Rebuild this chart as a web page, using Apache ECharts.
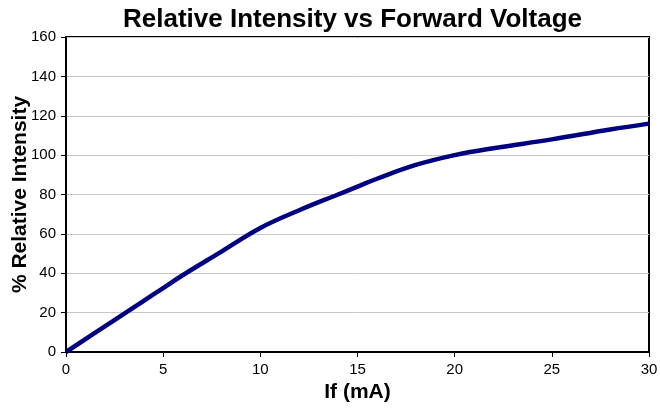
<!DOCTYPE html>
<html>
<head>
<meta charset="utf-8">
<script src="https://cdn.jsdelivr.net/npm/echarts@6/dist/echarts.min.js"></script>
<style>html,body{margin:0;padding:0;background:#fff;}#c{width:660px;height:412px;}</style>
</head>
<body>
<div id="c"></div>
<script>
var currentMA = [0, 2, 4, 5, 6, 8, 10, 12, 14, 15, 16, 18, 20, 22, 25, 28, 30];
var relIntensity = [0, 13, 26, 32.5, 39, 51, 63, 72, 80, 84, 88, 95, 100, 103.5, 108, 113, 116];
var xTicks = [0, 5, 10, 15, 20, 25, 30];
var yTicks = [0, 20, 40, 60, 80, 100, 120, 140, 160];

var chart = echarts.init(document.getElementById('c'), null, {renderer: 'canvas'});
var font = '"Liberation Sans", Arial, sans-serif';
chart.setOption({
  animation: false,
  backgroundColor: '#fff',
  title: {
    text: 'Relative Intensity vs Forward Voltage',
    left: 118, top: 2,
    textStyle: {fontFamily: font, fontSize: 26, fontWeight: 'bold', color: '#000'}
  },
  grid: {left: 66, right: 11, top: 37, bottom: 60, show: true, borderColor: '#000', borderWidth: 2,
         containLabel: false, outerBoundsMode: 'none'},
  xAxis: {
    type: 'value', min: xTicks[0], max: xTicks[xTicks.length - 1], interval: 5,
    name: 'If (mA)', nameLocation: 'middle', nameGap: 30, nameMoveOverlap: false,
    nameTextStyle: {fontFamily: font, fontSize: 21, fontWeight: 'bold', color: '#000'},
    axisLine: {show: true, lineStyle: {color: '#000', width: 2}},
    axisTick: {show: true, inside: false, length: 5, lineStyle: {color: '#000'}},
    axisLabel: {fontFamily: font, fontSize: 15, color: '#000', margin: 10},
    splitLine: {show: false}
  },
  yAxis: {
    type: 'value', min: yTicks[0], max: yTicks[yTicks.length - 1], interval: 20,
    name: '% Relative Intensity', nameLocation: 'middle', nameGap: 35, nameMoveOverlap: false,
    nameTextStyle: {fontFamily: font, fontSize: 21, fontWeight: 'bold', color: '#000'},
    axisLine: {show: true, lineStyle: {color: '#000', width: 2}},
    axisTick: {show: true, inside: false, length: 5, lineStyle: {color: '#000'}},
    axisLabel: {fontFamily: font, fontSize: 15, color: '#000', margin: 10},
    splitLine: {show: true, lineStyle: {color: '#c8c8c8', width: 1}}
  },
  series: [{
    type: 'line',
    data: currentMA.map(function (x, i) { return [x, relIntensity[i]]; }),
    smooth: 0.4,
    showSymbol: false,
    lineStyle: {color: '#000080', width: 4.5},
    itemStyle: {color: '#000080'}
  }]
});
</script>
</body>
</html>
